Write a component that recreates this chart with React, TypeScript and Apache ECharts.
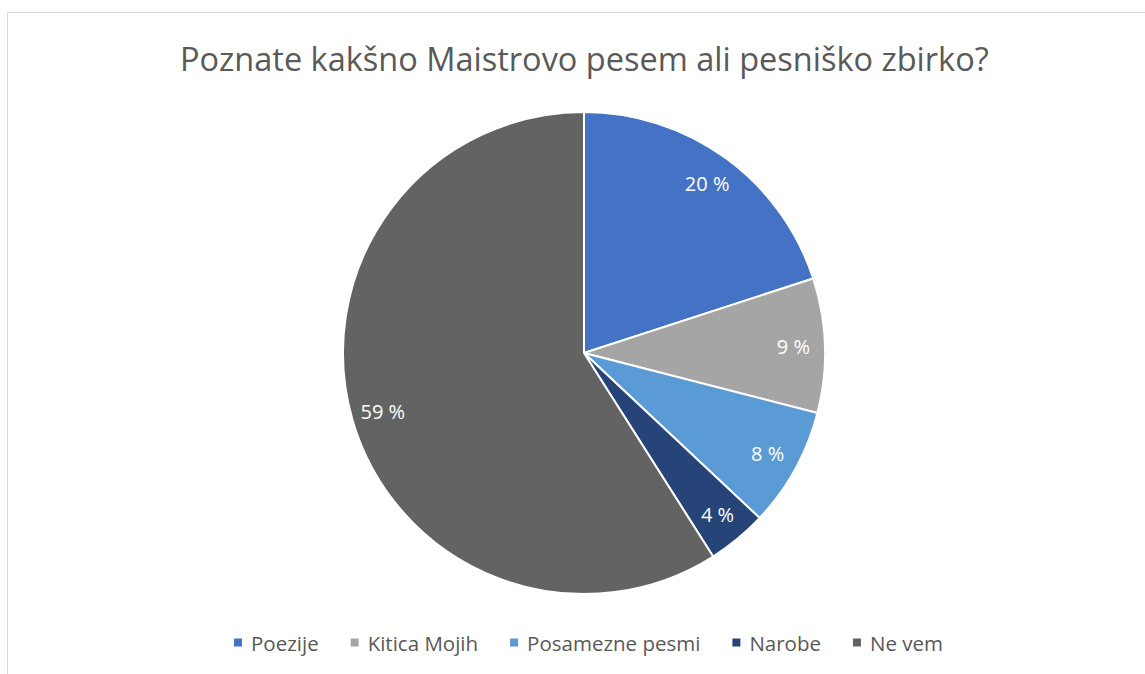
import React, { useEffect, useRef } from "react";
import * as echarts from "echarts";

const titleText = "Poznate kakšno Maistrovo pesem ali pesniško zbirko?";
const categories = ["Poezije", "Kitica Mojih", "Posamezne pesmi", "Narobe", "Ne vem"];
const values = [20, 9, 8, 4, 59];
const colors = ["#4472C4", "#A5A5A5", "#5B9BD5", "#264478", "#636363"];

const FONT = "'Open Sans', 'Noto Sans', sans-serif";

export default function App() {
  const ref = useRef<HTMLDivElement>(null);
  useEffect(() => {
    if (!ref.current) return;
    const chart = echarts.init(ref.current, undefined, { renderer: "svg" });
    const data = categories.map((name, i) => ({
      name,
      value: values[i],
      itemStyle: { color: colors[i] },
    }));
    chart.setOption({
      animation: false,
      backgroundColor: "#ffffff",
      title: {
        text: titleText,
        left: 175,
        top: 37,
        textStyle: { color: "#595959", fontSize: 32.5, fontWeight: "normal", fontFamily: FONT },
      },
      legend: {
        data: categories,
        bottom: 16,
        left: 227,
        icon: "rect",
        itemWidth: 10,
        itemHeight: 10,
        itemGap: 30,
        textStyle: { color: "#595959", fontSize: 20.5, fontFamily: FONT, padding: [0, 0, 0, 3] },
      },
      graphic: [
        {
          type: "rect",
          shape: { x: 7.5, y: 12.5, width: 1200, height: 700 },
          style: { fill: "none", stroke: "#D9D9D9", lineWidth: 1 },
          silent: true,
        },
      ],
      series: [
        {
          type: "pie",
          center: [584, 353],
          radius: [0, 241],
          startAngle: 90,
          clockwise: true,
          data,
          label: { show: false },
          labelLine: { show: false },
          itemStyle: { borderColor: "#ffffff", borderWidth: 2 },
          emphasis: { disabled: true },
        },
        {
          type: "pie",
          center: [584, 353],
          radius: [172, 241],
          startAngle: 90,
          clockwise: true,
          silent: true,
          data: categories.map((name, i) => ({ name, value: values[i], itemStyle: { color: "rgba(0,0,0,0)" } })),
          itemStyle: { borderWidth: 0 },
          label: {
            show: true,
            position: "inside",
            formatter: (p: any) => `${p.value} %`,
            color: "#ffffff",
            fontSize: 20,
            fontFamily: FONT,
          },
          labelLine: { show: false },
          emphasis: { disabled: true },
        },
      ],
    });
    return () => chart.dispose();
  }, []);
  return (
    <div
      ref={ref}
      style={{ position: "fixed", left: 0, top: 0, width: 1145, height: 674 }}
    />
  );
}
